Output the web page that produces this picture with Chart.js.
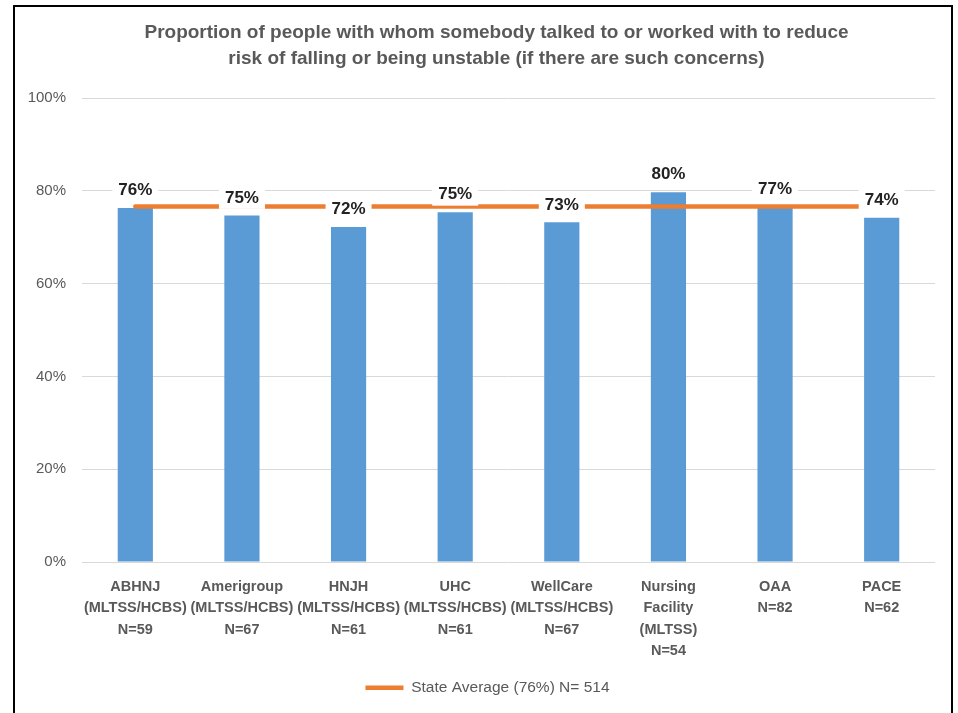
<!DOCTYPE html>
<html>
<head>
<meta charset="utf-8">
<script src="https://cdn.jsdelivr.net/npm/chart.js@4.4.1/dist/chart.umd.min.js"></script>
<style>
  html, body { margin: 0; padding: 0; background: #fff; }
  #wrap { position: relative; width: 958px; height: 713px; overflow: hidden; }
  #frame { position: absolute; left: 13px; top: 5px; width: 940px; height: 760px;
           border: 2px solid #000; box-sizing: border-box; pointer-events: none; }
</style>
</head>
<body>
<div id="wrap">
  <canvas id="chart" width="958" height="713"></canvas>
  <div id="frame"></div>
</div>
<script>
const categories = [
  ["ABHNJ", "(MLTSS/HCBS)", "N=59"],
  ["Amerigroup", "(MLTSS/HCBS)", "N=67"],
  ["HNJH", "(MLTSS/HCBS)", "N=61"],
  ["UHC", "(MLTSS/HCBS)", "N=61"],
  ["WellCare", "(MLTSS/HCBS)", "N=67"],
  ["Nursing", "Facility", "(MLTSS)", "N=54"],
  ["OAA", "N=82"],
  ["PACE", "N=62"]
];
const proportions = [76.3, 74.7, 72.2, 75.4, 73.2, 79.7, 76.5, 74.2];
const stateAverage = [76.6, 76.6, 76.6, 76.6, 76.6, 76.6, 76.6, 76.6];
const averageLabel = "State Average (76%) N= 514";
const yTicks = [0, 20, 40, 60, 80, 100];
const titleLines = [
  "Proportion of people with whom somebody talked to or worked with to reduce",
  "risk of falling or being unstable (if there are such concerns)"
];

const FONT = "'Liberation Sans', Arial, sans-serif";

// white boxed value labels above the bars, drawn over the average line
const barLabels = {
  id: "barLabels",
  afterDatasetsDraw(chart) {
    const ctx = chart.ctx;
    const meta = chart.getDatasetMeta(1);
    ctx.save();
    ctx.font = "bold 17px " + FONT;
    ctx.textAlign = "center";
    ctx.textBaseline = "middle";
    meta.data.forEach((bar, i) => {
      const txt = Math.round(proportions[i]) + "%";
      const w = ctx.measureText(txt).width + 12;
      const cy = bar.y - 18.5;
      ctx.fillStyle = "#fff";
      ctx.fillRect(bar.x - w / 2, cy - 12, w, 24);
      ctx.fillStyle = "#222";
      ctx.fillText(txt, bar.x, cy + 1);
    });
    ctx.restore();
  }
};

// white page + nudge title / legend to where the original sits
const pageLayout = {
  id: "pageLayout",
  afterLayout(chart) {
    chart.titleBlock.left = 58;
    chart.legend.left = 40;
  },
  beforeDraw(chart) {
    const ctx = chart.ctx;
    ctx.save();
    ctx.fillStyle = "#fff";
    ctx.fillRect(0, 0, chart.width, chart.height);
    ctx.restore();
  }
};

function drawChart() {
  new Chart(document.getElementById("chart").getContext("2d"), {
    type: "bar",
    data: {
      labels: categories,
      datasets: [
        {
          type: "line",
          label: averageLabel,
          data: stateAverage,
          borderColor: "#ED7D31",
          backgroundColor: "#ED7D31",
          borderWidth: 4.5,
          borderCapStyle: "round",
          pointRadius: 0,
          pointStyle: "line",
          order: 0
        },
        {
          label: "Proportion",
          data: proportions,
          backgroundColor: "#5B9BD5",
          barPercentage: 0.33,
          categoryPercentage: 1,
          order: 1
        }
      ]
    },
    options: {
      responsive: false,
      animation: false,
      devicePixelRatio: 1,
      layout: { padding: { left: 0, right: 23, top: 0, bottom: 7.5 } },
      plugins: {
        title: {
          display: true,
          text: titleLines,
          color: "#595959",
          font: { family: FONT, size: 19, weight: "bold", lineHeight: 26 / 19 },
          padding: { top: 20, bottom: 26 }
        },
        legend: {
          position: "bottom",
          labels: {
            filter: item => item.datasetIndex === 0,
            usePointStyle: true,
            pointStyleWidth: 38,
            color: "#595959",
            padding: 10,
            font: { family: FONT, size: 15.5 }
          }
        },
        tooltip: { enabled: false }
      },
      scales: {
        x: {
          grid: { display: false },
          border: { display: false },
          ticks: {
            color: "#595959",
            font: { family: FONT, size: 14.5, weight: "bold", lineHeight: 21.5 / 14.5 },
            padding: 6,
            maxRotation: 0,
            autoSkip: false
          },
          afterFit: scale => { scale.height = 108; }
        },
        y: {
          min: 0,
          max: 100,
          afterBuildTicks: scale => { scale.ticks = yTicks.map(v => ({ value: v })); },
          grid: { color: "#D9D9D9", lineWidth: 1, drawTicks: false },
          border: { display: false },
          ticks: {
            color: "#595959",
            font: { family: FONT, size: 15 },
            padding: 16,
            callback: v => v + "%"
          },
          afterFit: scale => { scale.width = 82; }
        }
      }
    },
    plugins: [pageLayout, barLabels]
  });
}

document.addEventListener("DOMContentLoaded", drawChart);
</script>
</body>
</html>
